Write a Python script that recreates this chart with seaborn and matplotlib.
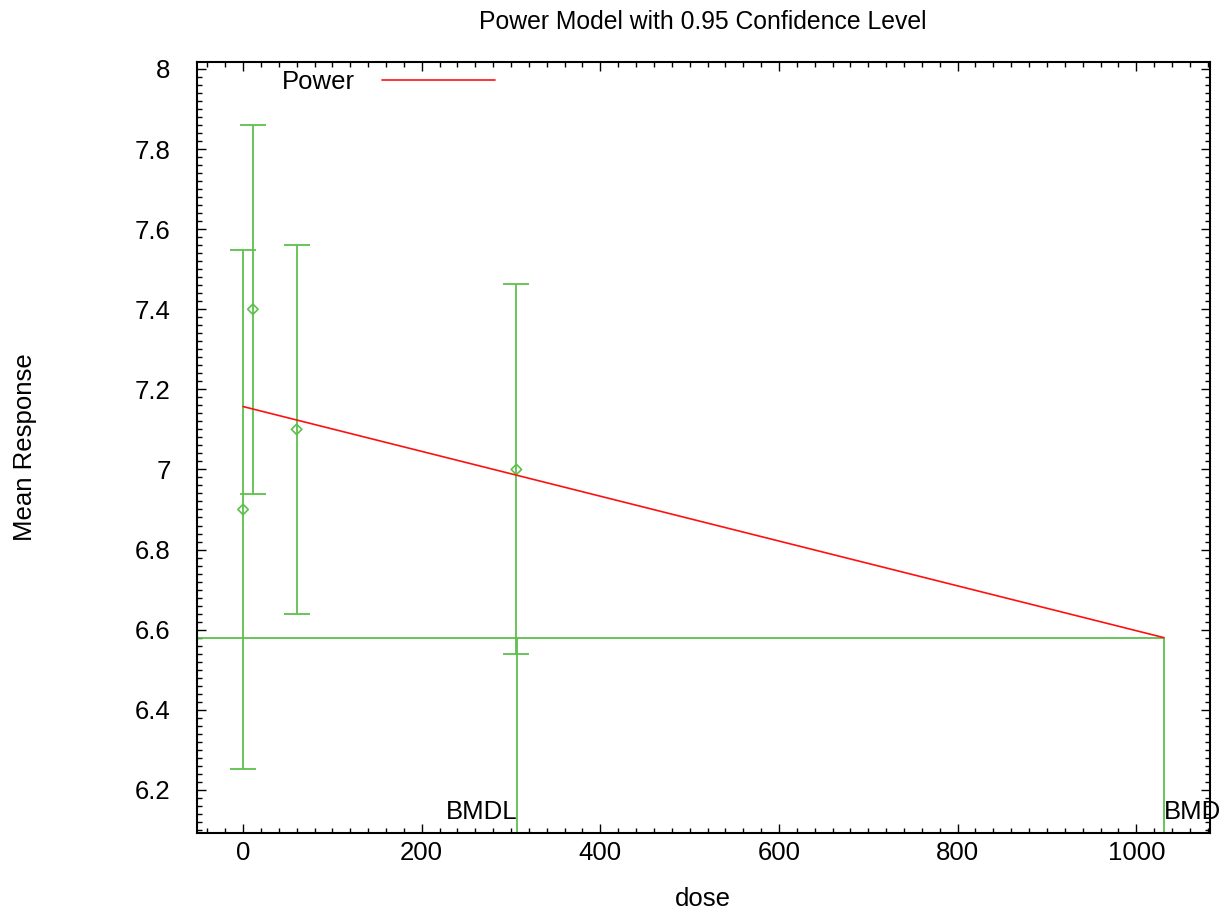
import matplotlib
matplotlib.use('Agg')
import matplotlib.pyplot as plt
import seaborn as sns
from matplotlib.ticker import MultipleLocator, FuncFormatter

# %%

# Observed group means with their confidence half-widths

dose = [0, 11, 60, 306]
mean_response = [6.9, 7.4, 7.1, 7.0]
half_width = [0.647, 0.461, 0.461, 0.462]

# Fitted power model (dose -> mean), drawn up to the BMD

fit_dose = [0, 1031]
fit_mean = [7.157, 6.58]

# Benchmark values

bmd = 1031
bmdl = 307
bmr_level = 6.58

x_range = (-0.05 * bmd, 1.05 * bmd)
y_range = (6.093, 8.018)

green = '#5dc04c'
red = '#ff1010'

# %%

sns.set_style('ticks')
plt.rcParams['font.family'] = ['Liberation Sans', 'DejaVu Sans']
plt.rcParams['font.size'] = 18.5
for key in ['text.color', 'axes.labelcolor', 'xtick.color', 'ytick.color']:
    plt.rcParams[key] = 'black'

fig = plt.figure(figsize=(12.28, 9.11), dpi=100)
ax = fig.add_axes([197 / 1228, 1 - 832.7 / 911,
                   (1210 - 197) / 1228, (832.7 - 61.7) / 911])

# Error bars and observed means

ax.errorbar(dose, mean_response, yerr=half_width, fmt='none',
            ecolor=green, elinewidth=1.3, capsize=9.2, capthick=1.3)

sns.scatterplot(x=dose, y=mean_response, marker='D', s=28,
                facecolor='none', edgecolor=green, linewidth=1.2, ax=ax,
                zorder=3)

# Fitted model

sns.lineplot(x=fit_dose, y=fit_mean, color=red, lw=1.2, label='Power',
             ax=ax, zorder=4)

# BMD and BMDL markers

ax.plot([x_range[0], bmd, bmd], [bmr_level, bmr_level, y_range[0]],
        color=green, lw=1.3)
ax.plot([bmdl, bmdl], [bmr_level, y_range[0]], color=green, lw=1.3)

ax.text(bmdl, 6.128, 'BMDL', ha='right', va='baseline')
ax.text(bmd, 6.128, 'BMD', ha='left', va='baseline')

# Axes limits and ticks

ax.set_xlim(*x_range)
ax.set_ylim(*y_range)

ax.xaxis.set_major_locator(MultipleLocator(200))
ax.xaxis.set_minor_locator(MultipleLocator(20))
ax.yaxis.set_major_locator(MultipleLocator(0.2))
ax.yaxis.set_minor_locator(MultipleLocator(0.02))
ax.yaxis.set_major_formatter(FuncFormatter(lambda v, p: '%g' % round(v, 2)))

ax.tick_params(which='both', direction='in', top=True, right=True,
               color='black', width=1.0)
ax.tick_params(which='major', length=6.5)
ax.tick_params(which='minor', length=3.6)
ax.tick_params(axis='y', pad=19)
ax.tick_params(axis='x', pad=6)

for side in ax.spines.values():
    side.set_linewidth(1.5)
    side.set_color('black')

# Legend with text before the line

ax.legend(loc='center left', bbox_to_anchor=(0.0836, 0.974),
          frameon=False, markerfirst=False, handlelength=4.43,
          handletextpad=1.05, borderpad=0, borderaxespad=0)

# Title and labels

ax.set_xlabel('')
ax.set_ylabel('')
fig.text(703 / 1228, 1 - 22 / 911, 'Power Model with 0.95 Confidence Level',
         ha='center', va='center', fontsize=17.8)
fig.text(703 / 1228, 1 - 899 / 911, 'dose', ha='center', va='center')
fig.text(25 / 1228, 1 - 447 / 911, 'Mean Response', ha='center',
         va='center', rotation=90)

fig.savefig('out.png', dpi=100)
